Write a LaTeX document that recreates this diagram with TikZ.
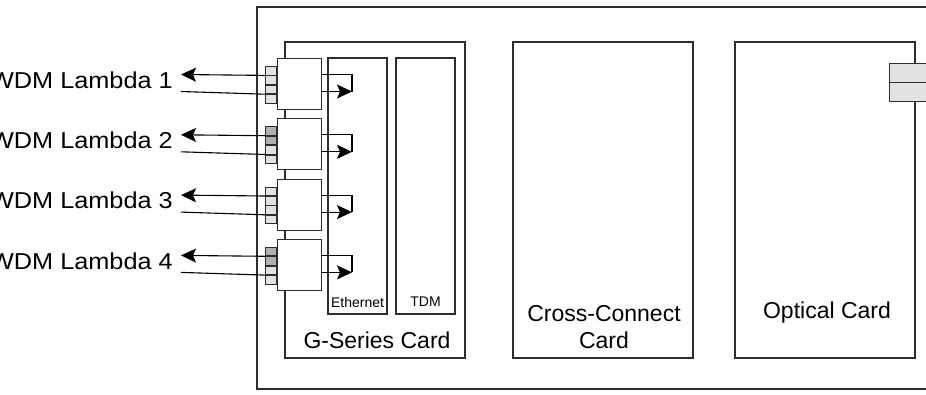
\documentclass[tikz,border=0pt]{standalone}
\usepackage{fontspec}
\setmainfont{Liberation Sans}
\newfontfamily\widefont[FakeStretch=1.1]{Liberation Sans}
\usetikzlibrary{arrows.meta}
\definecolor{lineclr}{RGB}{45,45,45}
\definecolor{portlight}{RGB}{226,226,226}
\definecolor{portdark}{RGB}{176,176,176}
\begin{document}
\begin{tikzpicture}[x=1pt,y=-1pt,
  ln/.style={draw=lineclr,line width=1.1pt},
  card/.style={ln,fill=white,rectangle,inner sep=0pt},
  module/.style={ln,fill=white,rectangle,inner sep=0pt,minimum width=44pt,minimum height=51pt},
  port/.style={draw=lineclr,line width=0.9pt,rectangle,inner sep=0pt,minimum width=11pt,minimum height=8.5pt},
  bigtxt/.style={font=\fontsize{23}{27}\selectfont,inner sep=0pt,align=center},
  wdmtxt/.style={font=\widefont\fontsize{23}{27}\selectfont,inner sep=0pt},
  smalltxt/.style={font=\fontsize{14}{16}\selectfont,inner sep=0pt},
  wire/.style={draw=black,line width=1.1pt},
  arr/.style={wire,-{Stealth[length=15pt,width=14pt,inset=3pt]}}
]
\useasboundingbox (0,0) rectangle (926,394);
\clip (0,0) rectangle (926,394);
% chassis
\draw[ln] (940,7) -- (257,7) -- (257,389) -- (940,389);
% cards
\node[card,minimum width=180pt,minimum height=316pt] (gs) at (375,200) {};
\node[card,minimum width=180pt,minimum height=316pt] (xc) at (603,200) {};
\node[card,minimum width=180pt,minimum height=316pt] (oc) at (825,200) {};
\node[card,minimum width=59pt,minimum height=256pt] (eth) at (357.5,186) {};
\node[card,minimum width=59pt,minimum height=256pt] (tdm) at (425.5,186) {};
\node[bigtxt] (gslbl) at (377,340) {G-Series Card};
\node[bigtxt] (xclbl) at (604,327) {Cross-Connect\\Card};
\node[bigtxt] (oclbl) at (827,313) {Optical Card};
\node[smalltxt] (ethlbl) at (357.5,302) {Ethernet};
\node[smalltxt] (tdmlbl) at (425.5,302) {TDM};
% optical connector
\node[draw=lineclr,line width=1.1pt,fill=portlight,rectangle,inner sep=0pt,minimum width=40pt,minimum height=19pt,anchor=north west] (oc1) at (889,63) {};
\node[draw=lineclr,line width=1.1pt,fill=portlight,rectangle,inner sep=0pt,minimum width=40pt,minimum height=19pt,anchor=north west] (oc2) at (889,82) {};
% modules
\foreach \i/\t/\ca/\cb in {1/58/portlight/portlight,2/118.3/portdark/portdark,3/178.6/portlight/portlight,4/238.9/portdark/portdark}{
  \node[module,anchor=north west] (m\i) at (277,\t) {};
  \node[port,fill=\ca,anchor=north east] (p\i a) at (m\i.north west |- 0,\t+8) {};
  \node[port,fill=\cb,anchor=north east] (p\i b) at (p\i a.south east) {};
  \node[port,fill=portlight,anchor=north east] (p\i c) at (p\i b.south east) {};
  \node[port,fill=portlight,anchor=north east] (p\i d) at (p\i c.south east) {};
  \coordinate (ltip\i) at (181,\t+16.5);
  \coordinate (lend\i) at (181,\t+33.5);
  \coordinate (rc\i) at (352,\t+16.5);
  \coordinate (rtip\i) at (352,\t+33.5);
  \draw[arr] (p\i a.south west) -- (ltip\i);
  \draw[wire] (p\i c.south west) -- (lend\i);
  \draw[wire] (m\i.east |- rc\i) -- (rc\i) -- (rtip\i);
  \draw[arr] (m\i.east |- rtip\i) -- (rtip\i);
  \node[wdmtxt,anchor=east] (lbl\i) at (173,\t+22) {WDM Lambda \i};
}
\draw[ln] (m1.north -| 285,0) -- (285,42);
\draw[ln] (m1.south -| 285,0) -- (m2.north -| 285,0);
\draw[ln] (m2.south -| 285,0) -- (m3.north -| 285,0);
\draw[ln] (m3.south -| 285,0) -- (m4.north -| 285,0);
\end{tikzpicture}
\end{document}
